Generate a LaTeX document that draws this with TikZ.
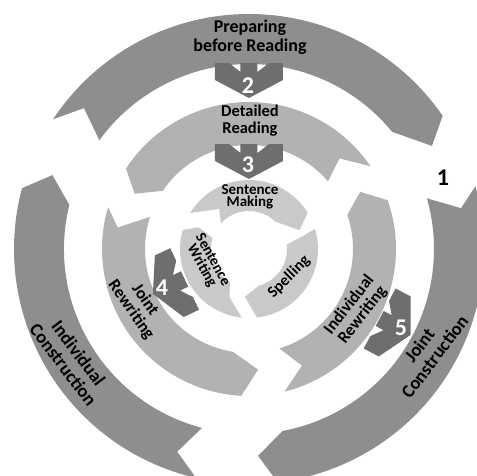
\documentclass[tikz,border=0pt]{standalone}
\usepackage{fontspec}
\setmainfont{Carlito}
\definecolor{ringA}{RGB}{142,142,142}
\definecolor{ringB}{RGB}{178,178,178}
\definecolor{ringC}{RGB}{201,201,201}
\definecolor{chevcol}{RGB}{110,110,110}
\tikzset{
  chevron/.pic={\fill[chevcol] (0,34pt) -- (17pt,34pt) -- (35pt,0) -- (17pt,-34pt) -- (0,-34pt) -- (0,-20pt) -- (9pt,-8.5pt) -- (0,-8.5pt) -- (0,8.5pt) -- (9pt,8.5pt) -- (0,20pt) -- cycle;},
  lbl/.style={align=center, text=black, inner sep=0pt},
  num/.style={text=white, inner sep=0pt, font=\fontsize{24}{24}\selectfont\bfseries}
}
\begin{document}
\begin{tikzpicture}
\useasboundingbox (-249pt,-226pt) rectangle (228pt,249pt);
% outer ring (clockwise)
\fill[ringA] (146.5:235pt) arc[start angle=146.5, end angle=34.5, radius=235pt] -- (29.4:210pt) -- (39.3:185pt) arc[start angle=39.3, end angle=144, radius=185pt] -- (139.5:217pt) -- cycle;
\fill[ringA] (15.5:235pt) arc[start angle=15.5, end angle=-83, radius=235pt] -- (-87.5:207pt) -- (-79.5:185pt) arc[start angle=-79.5, end angle=15.9, radius=185pt] -- (10.9:216pt) -- cycle;
\fill[ringA] (257:235pt) arc[start angle=257, end angle=165, radius=235pt] -- (159.4:210pt) -- (166.2:185pt) arc[start angle=166.2, end angle=255.3, radius=185pt] -- (250.5:215pt) -- cycle;
% middle ring (counter-clockwise)
\fill[ringB] (34.3:147pt) arc[start angle=34.3, end angle=146.8, radius=147pt] -- (154.2:127pt) -- (146:104pt) arc[start angle=146, end angle=40.6, radius=104pt] -- (45:128pt) -- cycle;
\fill[ringB] (163.5:147pt) arc[start angle=163.5, end angle=267, radius=147pt] -- (274.3:121pt) -- (261:104pt) arc[start angle=261, end angle=162, radius=104pt] -- (170.7:133pt) -- cycle;
\fill[ringB] (284:147pt) arc[start angle=284, end angle=379.4, radius=147pt] -- (387.2:125pt) -- (379.1:104pt) arc[start angle=379.1, end angle=287, radius=104pt] -- (294.4:128pt) -- cycle;
% inner ring (clockwise)
\fill[ringC] (148.6:69pt) arc[start angle=148.6, end angle=31.8, radius=69pt] -- (20.4:54pt) -- (46:38pt) arc[start angle=46, end angle=137.5, radius=38pt] -- (126.6:50pt) -- cycle;
\fill[ringC] (17:69pt) arc[start angle=17, end angle=-83.3, radius=69pt] -- (-95:48pt) -- (-75:38pt) arc[start angle=-75, end angle=6.7, radius=38pt] -- (12.4:52pt) -- cycle;
\fill[ringC] (264:69pt) arc[start angle=264, end angle=164, radius=69pt] -- (156.7:55pt) -- (163:38pt) arc[start angle=163, end angle=240, radius=38pt] -- (248:52pt) -- cycle;
% chevrons
\pic[rotate=-90] at (90:186pt) {chevron};
\pic[rotate=-90] at (90:105pt) {chevron};
\pic[rotate=205] at (205:71pt) {chevron};
\pic[rotate=-28] at (-28:148pt) {chevron};
\node[num] (n2) at (-1pt,163pt) {2};
\node[num] (n3) at (-1pt,84pt) {3};
\node[num] (n4) at (-87pt,-39pt) {4};
\node[num] (n5) at (152pt,-79pt) {5};
\node[num, text=black] (n1) at (194pt,71pt) {1};
% labels
\node[lbl, font=\fontsize{18}{19}\selectfont\bfseries] (prep) at (1pt,212pt) {Preparing\\before Reading};
\node[lbl, font=\fontsize{16.5}{17}\selectfont\bfseries] (det) at (1pt,128pt) {Detailed\\Reading};
\node[lbl, font=\fontsize{15}{12.5}\selectfont\bfseries] (smk) at (1pt,52pt) {Sentence\\Making};
\node[lbl, font=\fontsize{18.5}{19}\selectfont\bfseries, rotate=-53] (ic) at (-178pt,-110pt) {Individual\\Construction};
\node[lbl, font=\fontsize{18.5}{19}\selectfont\bfseries, rotate=53] (jc) at (178pt,-102pt) {Joint\\Construction};
\node[lbl, font=\fontsize{17}{17}\selectfont\bfseries, rotate=-55] (jr) at (-111pt,-56pt) {Joint\\Rewriting};
\node[lbl, font=\fontsize{17}{17}\selectfont\bfseries, rotate=52] (ir) at (107pt,-61pt) {Individual\\Rewriting};
\node[lbl, font=\fontsize{15}{12.5}\selectfont\bfseries, rotate=-61] (sw) at (-42pt,-14pt) {Sentence\\Writing};
\node[lbl, font=\fontsize{16}{16}\selectfont\bfseries, rotate=45] (sp) at (40pt,-28pt) {Spelling};
\end{tikzpicture}
\end{document}
